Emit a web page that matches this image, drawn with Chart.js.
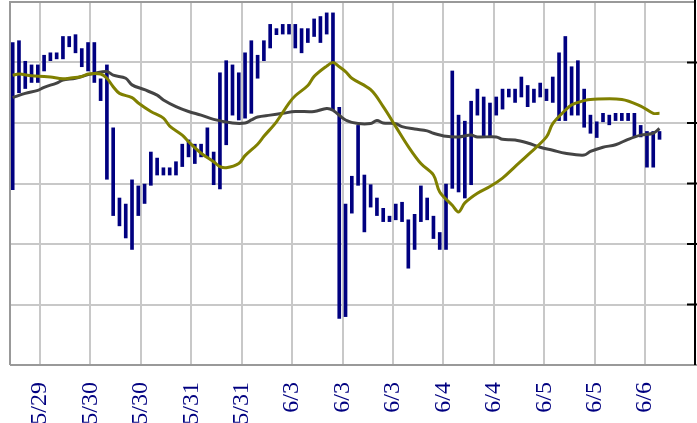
<!DOCTYPE html>
<html>
<head>
<meta charset="utf-8">
<script src="https://cdn.jsdelivr.net/npm/chart.js@4/dist/chart.umd.min.js"></script>
<style>
  html, body { margin: 0; padding: 0; background: #fff; }
</style>
</head>
<body>
<canvas id="canvas" width="697" height="423"></canvas>
<script>
// date labels, one every 8 bars
const dateLabels = ["5/29", "5/30", "5/30", "5/31", "5/31", "6/3", "6/3", "6/3", "6/4", "6/4", "6/5", "6/5", "6/6"];

// bar ranges (low / high), one per bar
const barLow = [
  29.0, 45.0, 45.7, 46.7, 46.7, 48.6, 50.3, 50.6, 50.6, 52.6,
  51.6, 49.3, 48.6, 46.7, 43.7, 30.7, 24.7, 23.0, 21.0, 19.1,
  24.7, 26.7, 29.7, 31.4, 31.4, 31.4, 31.4, 32.8, 34.4, 33.3,
  34.4, 34.4, 29.8, 29.1, 36.4, 41.3, 40.5, 40.8, 41.6, 47.4,
  50.3, 52.4, 54.6, 54.7, 54.7, 52.4, 51.6, 53.3, 54.3, 53.3,
  54.7, 42.2, 7.7, 8.0, 25.1, 29.7, 22.0, 26.1, 24.7, 23.7,
  23.7, 24.0, 23.7, 16.0, 19.1, 23.7, 24.0, 20.9, 19.1, 19.1,
  29.2, 28.6, 27.6, 29.8, 41.3, 37.9, 37.9, 41.3, 42.3, 44.3,
  43.4, 44.3, 42.7, 43.4, 44.3, 43.7, 43.4, 40.4, 40.4, 41.3,
  41.3, 39.3, 38.3, 37.6, 40.2, 39.7, 40.4, 40.4, 40.4, 37.7,
  37.7, 32.7, 32.7, 37.3
];
const barHigh = [
  53.3, 53.6, 50.2, 49.6, 49.6, 51.2, 51.6, 51.6, 54.3, 54.3,
  54.6, 52.3, 53.3, 53.3, 47.3, 49.6, 39.2, 27.6, 26.6, 30.6,
  29.6, 29.9, 35.2, 34.2, 32.6, 32.6, 33.6, 36.5, 37.2, 36.5,
  36.5, 39.2, 35.2, 48.3, 50.3, 49.6, 48.3, 51.6, 53.6, 51.2,
  53.6, 56.3, 55.6, 56.3, 56.3, 56.3, 55.6, 55.6, 57.2, 57.6,
  58.2, 58.2, 42.6, 26.6, 31.2, 39.6, 31.4, 29.8, 27.6, 25.9,
  24.6, 26.6, 26.9, 24.0, 24.9, 29.6, 27.6, 24.6, 21.9, 29.9,
  48.6, 41.3, 40.3, 43.6, 45.6, 44.3, 43.3, 44.3, 45.6, 45.6,
  45.6, 47.6, 46.2, 45.6, 46.6, 45.6, 47.6, 51.6, 54.3, 49.3,
  50.3, 45.6, 41.3, 40.2, 41.6, 41.3, 41.6, 41.6, 41.6, 41.6,
  39.6, 38.6, 38.6, 38.6
];

// olive average line (bar index, value)
const oliveIdx = [0, 1, 3, 5, 6, 8, 9, 11, 12, 14, 15, 16, 17, 19, 20, 22, 24, 25, 27, 28,
  30, 32, 33, 34, 36, 37, 39, 40, 42, 44, 45, 47, 48, 50, 51, 52, 53, 54, 57, 59,
  61, 63, 65, 67, 68, 70, 71, 72, 74, 76, 78, 80, 82, 85, 86, 88, 89, 91, 92, 97,
  100, 102, 103];
const oliveVal = [47.9, 48.1, 47.8, 47.7, 47.6, 47.3, 47.4, 47.7, 48.1, 48.1, 47.4, 46.0, 44.9, 44.2, 43.3, 41.9, 40.8, 39.5, 38.0, 36.9,
  35.0, 33.6, 32.8, 32.6, 33.3, 34.6, 36.5, 37.8, 40.2, 43.3, 44.5, 46.2, 47.7, 49.4, 50.0, 49.3, 48.5, 47.4, 45.5, 42.7,
  39.4, 36.1, 33.3, 31.4, 28.6, 26.4, 25.3, 26.8, 28.4, 29.5, 30.9, 32.8, 34.7, 37.7, 39.9, 42.1, 43.0, 43.7, 43.9, 43.9,
  42.8, 41.6, 41.6];

// dark gray average line (bar index, value)
const grayIdx = [0, 2, 4, 5, 7, 8, 10, 12, 13, 15, 16, 18, 19, 21, 23, 24, 26, 28, 30, 32,
  35, 37, 38, 39, 41, 43, 45, 48, 50, 51, 53, 55, 57, 58, 59, 61, 62, 64, 66, 67,
  69, 71, 73, 74, 77, 78, 80, 82, 84, 86, 88, 91, 92, 94, 96, 98, 100, 102, 103];
const grayVal = [44.2, 44.9, 45.4, 45.9, 46.6, 47.1, 47.4, 48.0, 48.2, 48.5, 47.9, 47.4, 46.3, 45.5, 44.6, 43.8, 42.7, 41.9, 41.3, 40.6,
  40.0, 40.0, 40.5, 41.0, 41.3, 41.6, 41.9, 41.9, 42.4, 42.1, 40.5, 39.9, 39.9, 40.4, 40.0, 39.9, 39.4, 39.0, 38.7, 38.3,
  37.8, 37.7, 38.0, 37.7, 37.7, 37.3, 37.2, 36.7, 36.0, 35.5, 35.0, 34.7, 35.3, 36.0, 36.4, 37.3, 38.0, 38.3, 39.1];

const framePlugin = {
  id: "frame",
  afterDraw: (chart) => {
    const { ctx, chartArea: a, scales } = chart;
    ctx.save();
    ctx.lineWidth = 2;
    ctx.strokeStyle = "#999999";
    ctx.beginPath();
    ctx.moveTo(a.left, a.bottom);
    ctx.lineTo(a.left, a.top);
    ctx.lineTo(a.right, a.top);
    ctx.moveTo(a.left, a.bottom);
    ctx.lineTo(a.right + 2, a.bottom);
    ctx.stroke();
    ctx.strokeStyle = "#000000";
    ctx.beginPath();
    ctx.moveTo(a.right, 0);
    ctx.lineTo(a.right, a.bottom);
    scales.y.ticks.forEach((t) => {
      const y = scales.y.getPixelForValue(t.value);
      if (y > a.top + 2 && y < a.bottom - 2) {
        ctx.moveTo(a.right - 8, y);
        ctx.lineTo(a.right + 2, y);
      }
    });
    ctx.stroke();
    ctx.restore();
  },
};

const ctx = document.getElementById("canvas");
const myChart = new Chart(ctx, {
  type: "bar",
  data: {
    datasets: [
      {
        type: "line",
        data: oliveIdx.map((x, i) => ({ x: x, y: oliveVal[i] })),
        borderColor: "#808000",
        borderWidth: 3,
        pointRadius: 0,
        tension: 0.35,
        order: 1,
      },
      {
        type: "line",
        data: grayIdx.map((x, i) => ({ x: x, y: grayVal[i] })),
        borderColor: "#444444",
        borderWidth: 3,
        pointRadius: 0,
        tension: 0.35,
        order: 2,
      },
      {
        type: "bar",
        data: barLow.map((lo, i) => ({ x: i, y: [lo, barHigh[i]] })),
        backgroundColor: "#000080",
        barThickness: 3,
        grouped: false,
        order: 3,
      },
    ],
  },
  options: {
    responsive: false,
    animation: false,
    layout: { padding: { left: 10, top: 2, right: 0, bottom: 0 } },
    plugins: { legend: { display: false }, tooltip: { enabled: false } },
    scales: {
      x: {
        type: "linear",
        min: -0.43,
        max: 108.65,
        offset: false,
        grid: { offset: false, color: "#c8c8c8", lineWidth: 2, drawTicks: false },
        border: { display: false },
        afterBuildTicks: (scale) => {
          scale.ticks = dateLabels.map((_, k) => ({ value: 4.35 + 8.03 * k }));
        },
        afterFit: (scale) => {
          scale.height = 58;
        },
        ticks: {
          autoSkip: false,
          maxRotation: 90,
          minRotation: 90,
          padding: 17,
          color: "#000080",
          font: { family: "Liberation Serif", size: 24 },
          callback: (value, index) => dateLabels[index],
        },
      },
      y: {
        position: "right",
        min: 0,
        max: 60,
        grid: { color: "#c8c8c8", lineWidth: 2, drawTicks: false },
        border: { display: false },
        ticks: { display: false, stepSize: 10 },
        afterFit: (scale) => {
          scale.width = 2;
        },
      },
    },
  },
  plugins: [framePlugin],
});
</script>
</body>
</html>
